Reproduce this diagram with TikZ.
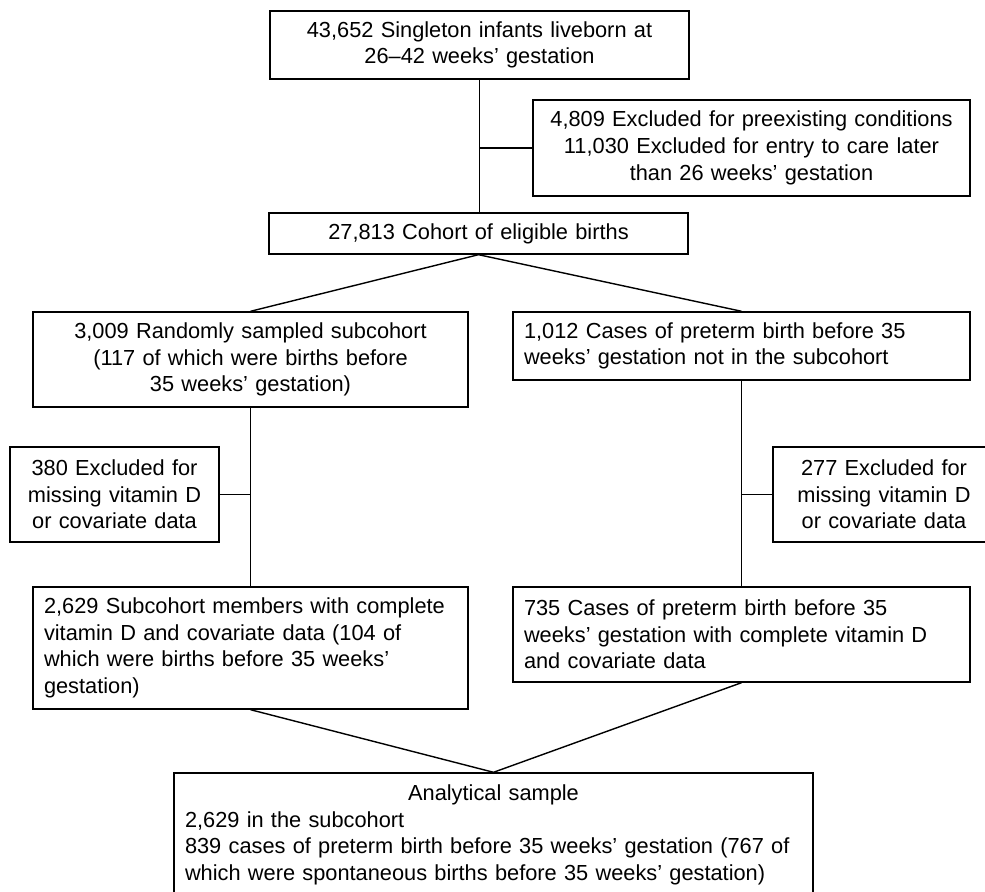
\documentclass[tikz,border=0pt]{standalone}
\usepackage{fontspec}
\setmainfont{Liberation Sans}
\usetikzlibrary{positioning}
\hyphenpenalty=10000
\exhyphenpenalty=10000

\tikzset{
  stage/.style={draw, line width=0.8pt, inner xsep=0.22cm, inner ysep=0pt,
                font=\fontsize{12.4}{15.2}\selectfont},
}

\begin{document}
\begin{tikzpicture}
  \useasboundingbox (0,0) rectangle (19.7,17.82);
  \clip (0,0) rectangle (19.7,17.82);

  \node[stage, text width=7.94cm, minimum height=1.36cm, align=center] (singletons) at (9.59,16.92)
    {43,652 Singleton infants liveborn at\\26–42 weeks’ gestation};
  \node[stage, text width=8.30cm, minimum height=1.92cm, align=center] (excluded_pre) at (15.03,14.86)
    {4,809 Excluded for preexisting conditions\\11,030 Excluded for entry to care later\\than 26 weeks’ gestation};
  \node[stage, text width=7.94cm, minimum height=0.82cm, align=center] (cohort) at (9.57,13.15)
    {27,813 Cohort of eligible births};

  \node[stage, text width=8.26cm, minimum height=1.90cm, align=center] (subcohort) at (5.01,10.63)
    {3,009 Randomly sampled subcohort\\(117 of which were births before\\35 weeks’ gestation)};
  \node[stage, text width=8.70cm, minimum height=1.36cm, align=left] (cases) at (14.83,10.90)
    {1,012 Cases of preterm birth before 35\\weeks’ gestation not in the subcohort};

  \node[stage, text width=3.74cm, minimum height=1.90cm, align=center] (missing_sub) at (2.29,7.93)
    {380 Excluded for\\missing vitamin D\\or covariate data};
  \node[stage, text width=4.00cm, minimum height=1.90cm, align=center] (missing_cases) at (17.68,7.93)
    {277 Excluded for\\missing vitamin D\\or covariate data};

  \node[stage, text width=8.26cm, minimum height=2.44cm, align=left] (complete_sub) at (5.01,4.86)
    {2,629 Subcohort members with complete\\vitamin D and covariate data (104 of\\which were births before 35 weeks’\\gestation)};
  \node[stage, text width=8.70cm, minimum height=1.90cm, align=left] (complete_cases) at (14.83,5.13)
    {735 Cases of preterm birth before 35\\weeks’ gestation with complete vitamin D\\and covariate data};

  \node[stage, text width=12.34cm, minimum height=2.48cm, align=left] (sample) at (9.87,1.12)
    {\makebox[\hsize]{Analytical sample}\\2,629 in the subcohort\\839 cases of preterm birth before 35 weeks’ gestation (767 of\\which were spontaneous births before 35 weeks’ gestation)};

  \draw[line width=0.8pt] (singletons.south) -- (singletons.south |- cohort.north);
  \draw[line width=0.8pt] (singletons.south |- excluded_pre.west) -- (excluded_pre.west);
  \draw[line width=0.8pt] (cohort.south) -- (subcohort.north);
  \draw[line width=0.8pt] (cohort.south) -- (cases.north);

  \draw[line width=0.8pt] (subcohort) -- (complete_sub);
  \draw[line width=0.8pt] (subcohort.south |- missing_sub.east) -- (missing_sub.east);
  \draw[line width=0.8pt] (cases) -- (complete_cases);
  \draw[line width=0.8pt] (cases.south |- missing_cases.west) -- (missing_cases.west);

  \draw[line width=0.8pt] (complete_sub.south) -- (sample.north);
  \draw[line width=0.8pt] (complete_cases.south) -- (sample.north);
\end{tikzpicture}
\end{document}
